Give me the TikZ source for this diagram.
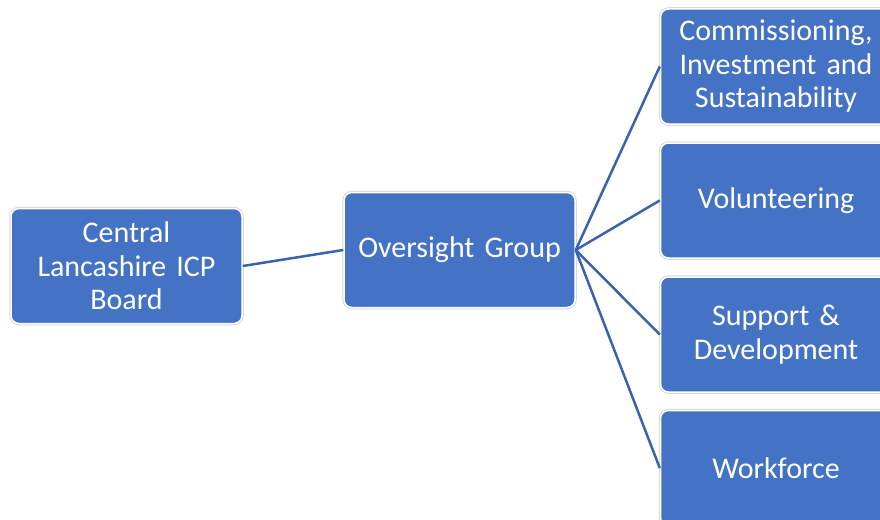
\documentclass[tikz,border=0pt]{standalone}
\usepackage{fontspec}
\setmainfont[WordSpace=0.85]{Carlito}
\usetikzlibrary{positioning}
\definecolor{boxblue}{RGB}{68,114,196}
\definecolor{linkblue}{RGB}{59,98,172}
\tikzset{
  unit/.style={rectangle, rounded corners=8pt, fill=boxblue, draw=white, line width=1.5pt,
    preaction={draw=black!15, line width=3.5pt},
    minimum width=231pt, minimum height=115pt, text width=215pt, align=center,
    text=white, font=\fontsize{30pt}{33.5pt}\selectfont, inner sep=0pt},
  link/.style={draw=linkblue, line width=2.5pt}
}
\begin{document}
\begin{tikzpicture}[x=1pt, y=1pt]
\useasboundingbox (0,0) rectangle (880,-519);
\node[unit] (board) at (126.5,-266) {Central\\Lancashire ICP\\Board};
\node[unit] (group) at (459.5,-250) {Oversight Group};
\node[unit] (cis) at (776,-66.5) {Commissioning,\\Investment and\\Sustainability};
\node[unit] (vol) [below=17.5pt of cis] {Volunteering};
\node[unit] (sup) [below=17.5pt of vol] {Support \&\\Development};
\node[unit] (work) [below=17pt of sup] {Workforce};
\draw[link] (board.east) -- (group.west);
\foreach \n in {cis,vol,sup,work}
  \draw[link] (group.east) -- (\n.west);
\end{tikzpicture}
\end{document}
